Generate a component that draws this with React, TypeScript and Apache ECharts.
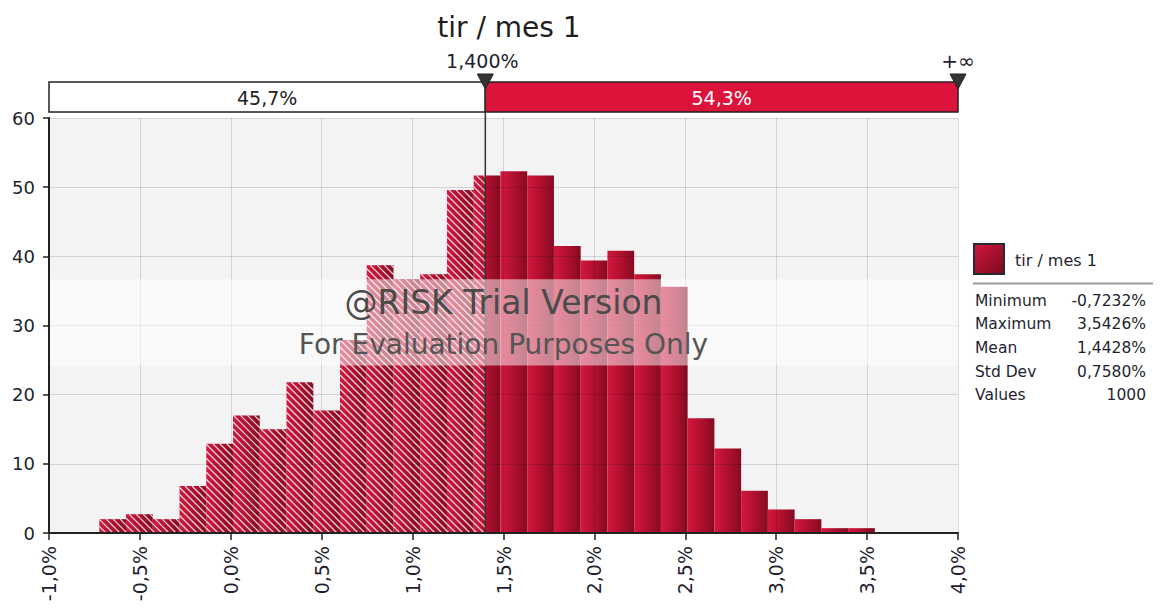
import React, { useEffect, useRef } from 'react';
import * as echarts from 'echarts';

const TITLE = 'tir / mes 1';
const DATA_MIN = -0.7232;
const DATA_MAX = 3.5426;
const BIN_COUNT = 29;
// density heights, one per bin
const densities = [
  2.0, 2.7, 2.0, 6.8, 12.9, 17.0, 15.0, 21.8, 17.7, 27.9,
  38.7, 36.7, 37.4, 49.6, 51.7, 52.3, 51.7, 41.5, 39.4, 40.8,
  37.4, 35.6, 16.6, 12.2, 6.1, 3.4, 2.0, 0.7, 0.7,
];
const SPLIT = 1.4;
const LEFT_PCT = '45,7%';
const RIGHT_PCT = '54,3%';
const SPLIT_LABEL = '1,400%';
const RIGHT_LABEL = '+∞';
const statNames = ['Minimum', 'Maximum', 'Mean', 'Std Dev', 'Values'];
const statValues = ['-0,7232%', '3,5426%', '1,4428%', '0,7580%', '1000'];
const X_MIN = -1;
const X_MAX = 4;
const X_STEP = 0.5;
const Y_MIN = 0;
const Y_MAX = 60;
const Y_STEP = 10;
const WATERMARK1 = '@RISK Trial Version';
const WATERMARK2 = 'For Evaluation Purposes Only';

const FONT = 'DejaVu Sans';

function buildPieces() {
  const w = (DATA_MAX - DATA_MIN) / BIN_COUNT;
  const pieces: number[][] = [];
  densities.forEach((h, i) => {
    const a = DATA_MIN + i * w;
    const b = a + w;
    if (SPLIT > a && SPLIT < b) {
      pieces.push([a, SPLIT, h, 1, a, b]);
      pieces.push([SPLIT, b, h, 0, a, b]);
    } else {
      pieces.push([a, b, h, b <= SPLIT ? 1 : 0, a, b]);
    }
  });
  return pieces;
}

export default function App() {
  const ref = useRef<HTMLDivElement>(null);
  useEffect(() => {
    document.body.style.margin = '0';
    const chart = echarts.init(ref.current!, null, { renderer: 'svg' });
    const pieces = buildPieces();
    const fmtX = (v: number) => v.toFixed(1).replace('.', ',') + '%';
    chart.setOption({
      animation: false,
      title: {
        text: TITLE,
        left: 504,
        top: 8,
        textAlign: 'center',
        textStyle: { fontFamily: FONT, fontSize: 28, fontWeight: 'normal', color: '#1e1e1e' },
      },
      grid: {
        left: 49,
        right: 202,
        top: 118,
        bottom: 80,
        show: true,
        backgroundColor: '#f3f3f3',
        borderWidth: 0,
        outerBoundsMode: 'none',
      },
      xAxis: {
        type: 'value',
        min: X_MIN,
        max: X_MAX,
        interval: X_STEP,
        z: 3,
        axisLine: { show: true, onZero: false, lineStyle: { color: '#222', width: 2 } },
        axisTick: { show: true, length: 7, lineStyle: { color: '#222', width: 1.5 } },
        splitLine: { show: true, lineStyle: { color: 'rgba(0,0,0,0.13)', width: 1 } },
        axisLabel: {
          rotate: 90,
          margin: 13,
          fontFamily: FONT,
          fontSize: 19,
          color: '#1f1f2f',
          formatter: fmtX,
        },
      },
      yAxis: {
        type: 'value',
        min: Y_MIN,
        max: Y_MAX,
        interval: Y_STEP,
        z: 3,
        axisLine: { show: true, onZero: false, lineStyle: { color: '#222', width: 2 } },
        axisTick: { show: true, length: 6, lineStyle: { color: '#222', width: 1.5 } },
        splitLine: { show: true, lineStyle: { color: 'rgba(0,0,0,0.13)', width: 1 } },
        axisLabel: { margin: 14, fontFamily: FONT, fontSize: 18, color: '#1f1f2f' },
      },
      series: [
        {
          type: 'custom',
          clip: true,
          encode: { x: [0, 1], y: 2 },
          data: pieces,
          renderItem: (params: any, api: any) => {
            const x0 = api.value(0);
            const x1 = api.value(1);
            const h = api.value(2);
            const hatched = api.value(3);
            const ba = api.value(4);
            const bb = api.value(5);
            const p0 = api.coord([x0, h]);
            const p1 = api.coord([x1, 0]);
            const pa = api.coord([ba, 0])[0];
            const pb = api.coord([bb, 0])[0];
            const rx = p0[0];
            const ry = p0[1];
            const rw = p1[0] - p0[0];
            const rh = p1[1] - p0[1];
            const children: any[] = [
              {
                type: 'rect',
                shape: { x: rx, y: ry, width: rw, height: rh },
                style: {
                  fill: {
                    type: 'linear',
                    x: pa,
                    y: 0,
                    x2: pb,
                    y2: 0,
                    global: true,
                    colorStops: [
                      { offset: 0, color: '#d4173e' },
                      { offset: 0.6, color: '#a80f2c' },
                      { offset: 1, color: '#850a21' },
                    ],
                  },
                },
              },
            ];
            if (hatched) {
              const d = 7;
              const cMin = rx - (ry + rh);
              const cMax = rx + rw - ry;
              for (let c = Math.ceil(cMin / d) * d; c <= cMax; c += d) {
                const xs = Math.max(rx, ry + c);
                const xe = Math.min(rx + rw, ry + rh + c);
                if (xe > xs + 0.3) {
                  children.push({
                    type: 'line',
                    shape: { x1: xs, y1: xs - c, x2: xe, y2: xe - c },
                    style: { stroke: 'rgba(255,255,255,0.85)', lineWidth: 1.2 },
                  });
                }
              }
            }
            return { type: 'group', children };
          },
        },
      ],
    });

    const px = (v: number) => chart.convertToPixel({ xAxisIndex: 0 }, v) as number;
    const py = (v: number) => chart.convertToPixel({ yAxisIndex: 0 }, v) as number;
    const xL = px(X_MIN);
    const xS = px(SPLIT);
    const xR = px(X_MAX);
    const yBot = py(Y_MIN);
    const barTop = 82;
    const barBot = 112;
    const plotMid = (xL + xR) / 2;
    const tri = (x: number) => ({
      type: 'polygon',
      z: 12,
      shape: { points: [[x - 8, 74], [x + 8, 74], [x, 89]] },
      style: { fill: '#333', stroke: '#222', lineWidth: 1 },
    });
    const txt = (text: string, x: number, y: number, size: number, color: string, align = 'center', z = 12) => ({
      type: 'text',
      z,
      x,
      y,
      style: { text, fontFamily: FONT, fontSize: size, fill: color, align, verticalAlign: 'middle' },
    });
    const legendX = 973;
    const statY = [301, 324, 348, 372, 395];
    chart.setOption({
      graphic: [
        {
          type: 'rect',
          z: 10,
          shape: { x: xL, y: barTop, width: xS - xL, height: barBot - barTop },
          style: { fill: '#ffffff', stroke: '#222', lineWidth: 1.5 },
        },
        {
          type: 'rect',
          z: 10,
          shape: { x: xS, y: barTop, width: xR - xS, height: barBot - barTop },
          style: { fill: '#dc143c', stroke: '#222', lineWidth: 1.5 },
        },
        txt(LEFT_PCT, (xL + xS) / 2, 98, 19, '#222'),
        txt(RIGHT_PCT, (xS + xR) / 2, 98, 19, '#ffffff'),
        {
          type: 'line',
          z: 11,
          shape: { x1: xS, y1: 80, x2: xS, y2: yBot },
          style: { stroke: '#333', lineWidth: 1.5 },
        },
        tri(xS),
        tri(xR),
        txt(SPLIT_LABEL, xS - 3, 61, 19, '#1f1f2f'),
        txt(RIGHT_LABEL, xR, 61, 20, '#1f1f2f'),
        {
          type: 'rect',
          z: 13,
          shape: { x: xL + 1, y: py(36.7), width: xR - xL - 1, height: py(24.2) - py(36.7) },
          style: { fill: 'rgba(255,255,255,0.5)' },
        },
        txt(WATERMARK1, plotMid, 302, 33, '#4a4a4a', 'center', 14),
        txt(WATERMARK2, plotMid, 344, 28, '#555555', 'center', 14),
        {
          type: 'rect',
          z: 10,
          shape: { x: legendX + 1, y: 244, width: 30, height: 30 },
          style: {
            fill: {
              type: 'linear',
              x: 0,
              y: 0,
              x2: 1,
              y2: 1,
              colorStops: [
                { offset: 0, color: '#d4173e' },
                { offset: 1, color: '#7a0a1e' },
              ],
            },
            stroke: '#2a2a2a',
            lineWidth: 2,
          },
        },
        txt(TITLE, 1015, 260, 16, '#1f1f2f', 'left'),
        {
          type: 'line',
          z: 10,
          shape: { x1: legendX, y1: 283.5, x2: 1153, y2: 283.5 },
          style: { stroke: '#9a9a9a', lineWidth: 2 },
        },
        ...statNames.map((n, i) => txt(n, 975, statY[i], 15.5, '#1f1f2f', 'left')),
        ...statValues.map((v, i) => txt(v, 1146, statY[i], 15.5, '#1f1f2f', 'right')),
      ],
    });
    return () => chart.dispose();
  }, []);
  return <div ref={ref} style={{ width: 1160, height: 613 }} />;
}
